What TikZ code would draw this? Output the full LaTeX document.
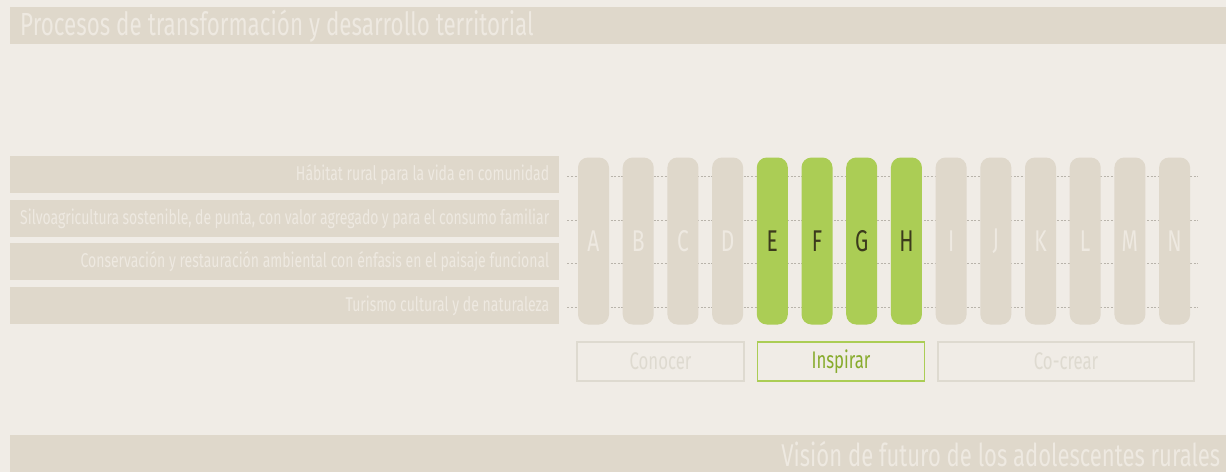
\documentclass[tikz,border=0pt]{standalone}
\usepackage{fontspec}
\setmainfont{Fira Sans}[FakeStretch=0.7]
\usetikzlibrary{positioning}

\definecolor{fondo}{HTML}{F0ECE6}
\definecolor{arena}{HTML}{DFD8CB}
\definecolor{claro}{HTML}{EEE9E1}
\definecolor{verde}{HTML}{ABCD55}
\definecolor{verdeosc}{HTML}{87AB2C}
\definecolor{oscuro}{HTML}{3B3A1C}
\definecolor{punto}{HTML}{B9B4AB}
\definecolor{borde}{HTML}{DEDAD0}

\begin{document}
\begin{tikzpicture}[
	                  x = 1pt,
	                  y = -1pt,
	     franja/.style = {fill=arena, inner sep=0pt, minimum width=1216pt, minimum height=37pt, anchor=north west},
	  textogrande/.style = {text=claro, inner sep=0pt, font=\fontsize{32}{32}\selectfont},
	   etiqueta/.style = {fill=arena, text=claro, anchor=north west, text width=529pt, align=flush right,
	                      inner xsep=10pt, inner ysep=0pt, minimum height=37pt, font=\fontsize{20}{20}\selectfont},
	   punteado/.style = {draw=punto, line width=0.6pt, dash pattern=on 2pt off 1.6pt},
	    columna/.style = {fill=arena, text=claro, rounded corners=10pt, minimum width=31pt, minimum height=167pt,
	                      inner sep=0pt, font=\fontsize{30}{30}\selectfont},
	     activa/.style = {columna, fill=verde, text=oscuro},
	       fase/.style = {draw=borde, line width=1.5pt, text=borde, minimum height=39pt, inner sep=0pt,
	                      font=\fontsize{24}{24}\selectfont},
	    faseact/.style = {fase, draw=verde, text=verdeosc},
	                    ]
	\useasboundingbox[fill=fondo] (0,0) rectangle (1226,472);

	% franja superior
	\node[franja] (arriba) at (10,7) {};
	\node[textogrande, anchor=west] (titulo) at ([xshift=10pt]arriba.west) {Procesos de transformación y desarrollo territorial};

	% ejes
	\coordinate (fin) at (1198,0);
	\node[etiqueta] (p1) at (10,156) {Hábitat rural para la vida en comunidad};
	\node[etiqueta] (p2) at (10,200) {Silvoagricultura sostenible, de punta, con valor agregado y para el consumo familiar};
	\node[etiqueta] (p3) at (10,243) {Conservación y restauración ambiental con énfasis en el paisaje funcional};
	\node[etiqueta] (p4) at (10,287) {Turismo cultural y de naturaleza};
	\foreach \i in {1,...,4}
		\draw[punteado] ([xshift=8pt,yshift=-2pt]p\i.east) -- ([yshift=-2pt]p\i.east -| fin);

	% columnas
	\foreach \l/\estilo [count=\i from 0] in {A/columna, B/columna, C/columna, D/columna,
	                                         E/activa, F/activa, G/activa, H/activa,
	                                         I/columna, J/columna, K/columna, L/columna, M/columna, N/columna}
		\node[\estilo] (c\l) at (593.5+44.7*\i,241) {\l};

	% fases
	\node[fase, minimum width=167pt] (conocer) at (660.5,361.5) {Conocer};
	\node[faseact, minimum width=167pt, right=12pt of conocer] (inspirar) {Inspirar};
	\node[fase, minimum width=256pt, right=12pt of inspirar] (cocrear) {Co-crear};

	% franja inferior
	\node[franja] (abajo) at (10,435) {};
	\node[textogrande, anchor=east, font=\fontsize{31.5}{32}\selectfont] (vision) at ([xshift=-6pt]abajo.east) {Visión de futuro de los adolescentes rurales};
\end{tikzpicture}
\end{document}
